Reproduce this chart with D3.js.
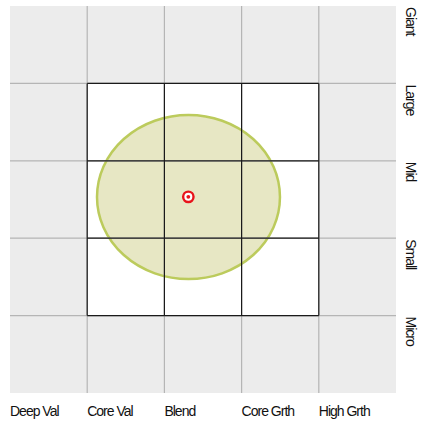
<!DOCTYPE html>
<html>
<head>
<meta charset="utf-8">
<script src="https://cdn.jsdelivr.net/npm/d3@7"></script>
<style>
  body { margin: 0; background: #fff; }
  text { font-family: Arial, "Liberation Sans", sans-serif; font-size: 14px; letter-spacing: -1px; fill: #111; }
</style>
</head>
<body>
<script>
var w = 422;
var h = 426;

// style boxes: columns left->right, rows top->bottom
var styles = ["Deep Val", "Core Val", "Blend", "Core Grth", "High Grth"];
var sizes = ["Giant", "Large", "Mid", "Small", "Micro"];

// holdings zone (in grid units) and centroid
var zoneCenter = [2.312, 2.468];
var zoneRadius = [1.185, 1.06];
var centroid = [2.31, 2.466];

var svg = d3.select("body")
    .append("svg")
    .attr("width", w)
    .attr("height", h);

var x = d3.scaleLinear().domain([0, 5]).range([10, 396]);
var y = d3.scaleLinear().domain([0, 5]).range([6, 393]);

// background
svg.append("rect")
    .attr("x", x(0)).attr("y", y(0))
    .attr("width", x(5) - x(0)).attr("height", y(5) - y(0))
    .attr("fill", "#ececec");

svg.append("rect")
    .attr("x", x(1)).attr("y", y(1))
    .attr("width", x(4) - x(1)).attr("height", y(4) - y(1))
    .attr("fill", "#fff");

// zone ellipse
svg.append("ellipse")
    .attr("cx", x(zoneCenter[0]))
    .attr("cy", y(zoneCenter[1]))
    .attr("rx", x(zoneRadius[0]) - x(0))
    .attr("ry", y(zoneRadius[1]) - y(0))
    .attr("fill", "#cfd08a")
    .attr("fill-opacity", 0.5)
    .attr("stroke", "#bccb5c")
    .attr("stroke-width", 2.5);

// gray grid lines
var ticks = d3.range(1, 5);
svg.selectAll("line.gv")
    .data(ticks).enter().append("line")
    .attr("x1", function(d) { return x(d); })
    .attr("x2", function(d) { return x(d); })
    .attr("y1", y(0)).attr("y2", y(5))
    .attr("stroke", "#b5b5b5").attr("stroke-width", 1.2);
svg.selectAll("line.gh")
    .data(ticks).enter().append("line")
    .attr("y1", function(d) { return y(d); })
    .attr("y2", function(d) { return y(d); })
    .attr("x1", x(0)).attr("x2", x(5))
    .attr("stroke", "#b5b5b5").attr("stroke-width", 1.2);

// black inner grid
svg.selectAll("line.bv")
    .data(ticks).enter().append("line")
    .attr("x1", function(d) { return x(d); })
    .attr("x2", function(d) { return x(d); })
    .attr("y1", y(1)).attr("y2", y(4))
    .attr("stroke", "#1a1a1a").attr("stroke-width", 1.2);
svg.selectAll("line.bh")
    .data(ticks).enter().append("line")
    .attr("y1", function(d) { return y(d); })
    .attr("y2", function(d) { return y(d); })
    .attr("x1", x(1)).attr("x2", x(4))
    .attr("stroke", "#1a1a1a").attr("stroke-width", 1.2);

// centroid marker
svg.append("circle")
    .attr("cx", x(centroid[0])).attr("cy", y(centroid[1]))
    .attr("r", 5.2)
    .attr("fill", "#fff")
    .attr("stroke", "#e8141b")
    .attr("stroke-width", 2.4);
svg.append("circle")
    .attr("cx", x(centroid[0])).attr("cy", y(centroid[1]))
    .attr("r", 1.9)
    .attr("fill", "#e8141b");

// bottom labels
svg.selectAll("text.xl")
    .data(styles).enter().append("text")
    .attr("x", function(d, i) { return x(i); })
    .attr("y", 416)
    .text(function(d) { return d; });

// right labels, rotated
svg.selectAll("text.yl")
    .data(sizes).enter().append("text")
    .attr("transform", function(d, i) {
        return "translate(406," + (y(i) + 1) + ") rotate(90)";
    })
    .text(function(d) { return d; });
</script>
</body>
</html>
